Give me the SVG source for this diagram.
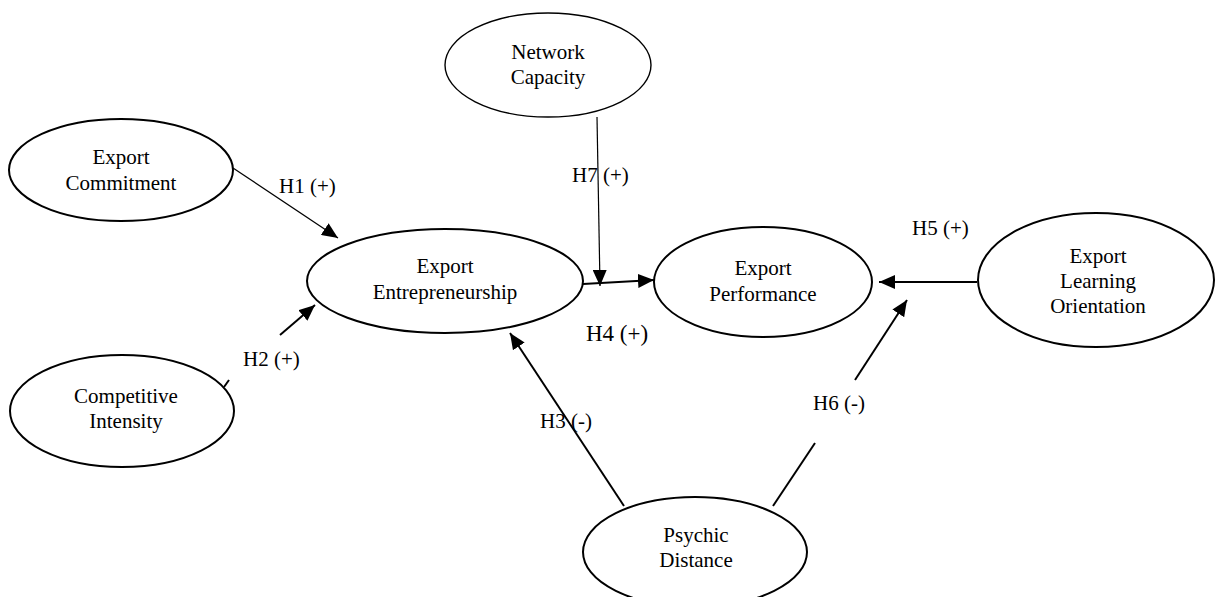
<svg xmlns="http://www.w3.org/2000/svg" width="1216" height="597" viewBox="0 0 1216 597">
<style>
.node{fill:#fff;stroke:#000;stroke-width:2}
.t{font-family:"Liberation Serif","Times New Roman",serif;font-size:21px;fill:#000;text-anchor:middle}
.lbl{font-family:"Liberation Serif","Times New Roman",serif;font-size:21px;fill:#000}
.thin{stroke:#000;stroke-width:1.2;fill:none}
.thick{stroke:#000;stroke-width:2;fill:none}
</style>
<defs>
<marker id="ah" markerUnits="userSpaceOnUse" markerWidth="16" markerHeight="14" refX="16" refY="7" orient="auto">
<path d="M0,0 L16,7 L0,14 z" fill="#000"/>
</marker>
</defs>
<rect width="1216" height="597" fill="#fff"/>
<g id="connectors">
<line class="thin" x1="233" y1="168" x2="338" y2="238" marker-end="url(#ah)"/>
<line class="thick" x1="280" y1="335" x2="315" y2="305" marker-end="url(#ah)"/>
<line class="thick" x1="224" y1="387" x2="229" y2="380"/>
<line class="thick" x1="624" y1="506" x2="510" y2="333" marker-end="url(#ah)"/>
<line class="thick" x1="583" y1="284" x2="654" y2="280" marker-end="url(#ah)"/>
<line class="thin" x1="597" y1="117" x2="600" y2="286" marker-end="url(#ah)"/>
<line class="thick" x1="977" y1="282" x2="879" y2="282" marker-end="url(#ah)"/>
<line class="thick" x1="773" y1="506" x2="815" y2="443"/>
<line class="thick" x1="855" y1="380" x2="907" y2="300" marker-end="url(#ah)"/>
<text class="lbl" x="279" y="193">H1 (+)</text>
<text class="lbl" x="243" y="366">H2 (+)</text>
<text class="lbl" x="540" y="428">H3 (-)</text>
<text class="lbl" x="586" y="341" style="font-size:23px">H4 (+)</text>
<text class="lbl" x="912" y="235">H5 (+)</text>
<text class="lbl" x="813" y="410">H6 (-)</text>
<text class="lbl" x="572" y="182">H7 (+)</text>
</g>
<g id="network-capacity">
<ellipse class="node" cx="548" cy="65" rx="103" ry="52" style="stroke-width:1.4"/>
<text class="t" x="548" y="59">Network</text>
<text class="t" x="548" y="84">Capacity</text>
</g>
<g id="export-commitment">
<ellipse class="node" cx="121" cy="170" rx="112" ry="51"/>
<text class="t" x="121" y="164">Export</text>
<text class="t" x="121" y="190">Commitment</text>
</g>
<g id="competitive-intensity">
<ellipse class="node" cx="122" cy="411" rx="112" ry="56"/>
<text class="t" x="126" y="403">Competitive</text>
<text class="t" x="126" y="428">Intensity</text>
</g>
<g id="export-entrepreneurship">
<ellipse class="node" cx="445" cy="281" rx="138" ry="52"/>
<text class="t" x="445" y="273">Export</text>
<text class="t" x="445" y="299">Entrepreneurship</text>
</g>
<g id="export-performance">
<ellipse class="node" cx="763" cy="282" rx="109" ry="55"/>
<text class="t" x="763" y="275">Export</text>
<text class="t" x="763" y="301">Performance</text>
</g>
<g id="export-learning-orientation">
<ellipse class="node" cx="1096" cy="280" rx="118" ry="67"/>
<text class="t" x="1098" y="263">Export</text>
<text class="t" x="1098" y="288">Learning</text>
<text class="t" x="1098" y="313">Orientation</text>
</g>
<g id="psychic-distance">
<ellipse class="node" cx="695" cy="552" rx="112" ry="55"/>
<text class="t" x="696" y="542">Psychic</text>
<text class="t" x="696" y="567">Distance</text>
</g>
</svg>
